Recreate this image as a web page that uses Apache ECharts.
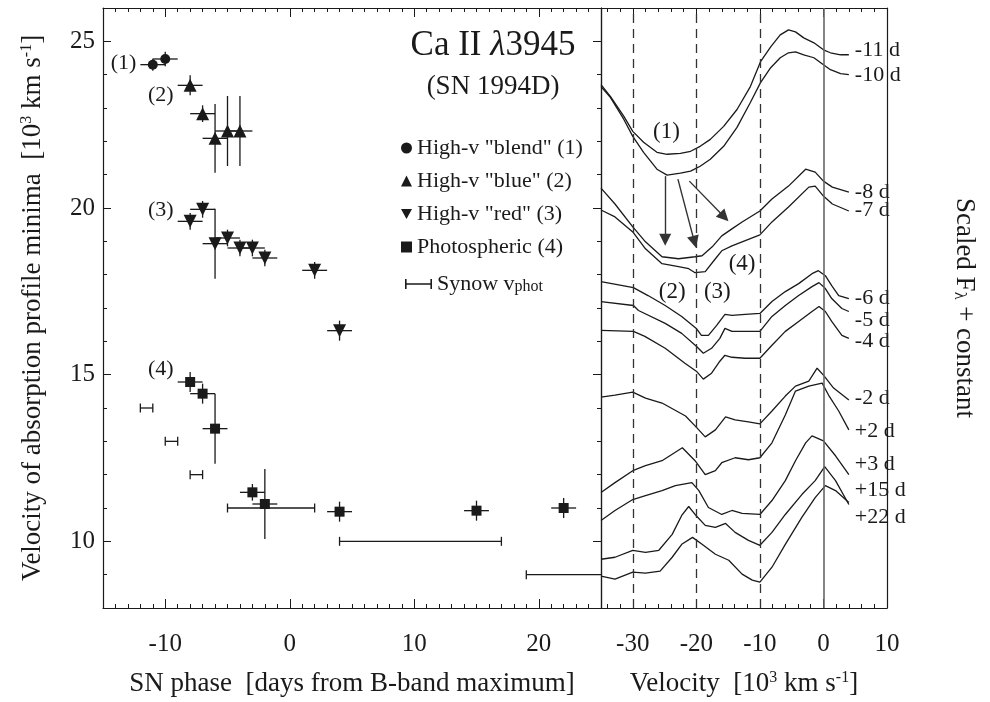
<!DOCTYPE html>
<html>
<head>
<meta charset="utf-8">
<script src="https://cdn.jsdelivr.net/npm/echarts@6/dist/echarts.min.js"></script>
<style>
  html, body { margin: 0; padding: 0; background: #fff; }
  #chart { width: 990px; height: 702px; }
</style>
</head>
<body>
<div id="chart"></div>
<script>
// ---- left panel: absorption minima vs. phase ----
const phaseBlend = [-11, -10];
const velBlend = [24.30, 24.47];
const errBlend = [0.18, 0.22];

const phaseBlue = [-8, -7, -6, -5, -4];
const velBlue = [23.68, 22.83, 22.09, 22.31, 22.31];
const errBlue = [0.3, 0.25, 1.03, 1.05, 1.05];

const phaseRed = [-8, -7, -6, -5, -4, -3, -2, 2, 4];
const velRed = [19.60, 19.96, 18.93, 19.10, 18.80, 18.80, 18.50, 18.13, 16.32];
const errRed = [0.25, 0.25, 1.05, 0.25, 0.25, 0.25, 0.25, 0.25, 0.3];

const phasePhot = [-8, -7, -6, -3, -2, 4, 15, 22];
const velPhot = [14.78, 14.43, 13.38, 11.47, 11.12, 10.89, 10.92, 11.0];
const errPhot = [0.3, 0.3, 1.05, 0.25, 1.05, 0.3, 0.3, 0.3];

const phaseErr = 1; // +/- 1 day on every measurement

const synowStart = [-12, -10, -8, -5, 4, 19];
const synowEnd = [-11, -9, -7, 2, 17, 26];
const synowVel = [14, 13, 12, 11, 10, 9];

const groupTags = ['(1)', '(2)', '(3)', '(4)'];
const tagPhase = [-13.35, -10.36, -10.36, -10.36];
const tagVel = [24.33, 23.38, 19.92, 15.15];

const phaseTicks = [-10, 0, 10, 20];
const velTicks = [10, 15, 20, 25];

// ---- right panel: Ca II line profiles, [velocity 10^3 km/s, scaled flux] ----
const epochs = ['-11 d', '-10 d', '-8 d', '-7 d', '-6 d', '-5 d', '-4 d', '-2 d', '+2 d', '+3 d', '+15 d', '+22 d'];

const spec_m11 = [[-35,52.6],[-33.5,51.4],[-31.4,49.4],[-30,47.9],[-28.3,46.8],[-26.2,45.8],[-24.6,45.6],[-22.5,45.7],[-20.9,45.9],[-19.4,46.4],[-17.8,47.1],[-15.7,48.4],[-13.6,50.1],[-11.5,52.4],[-9.9,54.9],[-8.3,56.4],[-6.8,57.6],[-5.5,58.1],[-4.4,57.9],[-3.1,57.3],[-1.5,56.8],[0,56.1],[1.1,55.8],[2.7,55.6],[4,55.6]];
const spec_m10 = [[-35,52.4],[-33.5,51.3],[-31.4,49.1],[-30,47.4],[-28.3,45.8],[-26.2,44.1],[-24.6,43.5],[-22.5,43.7],[-20.9,43.9],[-19.4,44.4],[-17.8,45.1],[-15.7,46.4],[-13.6,48.3],[-11.5,50.8],[-9.9,52.8],[-8.3,54.3],[-6.8,55.3],[-5.5,55.8],[-4.4,55.9],[-3.1,55.6],[-1.5,55.3],[0,54.6],[1.1,54.1],[2.7,53.7],[4,53.6]];
const spec_m8 = [[-35,42.2],[-32.8,40.6],[-30,38.3],[-28,36.8],[-25.4,35.3],[-22.8,35.1],[-20.2,35.3],[-19.1,35.4],[-17.5,36.3],[-16,37.4],[-14.4,38.1],[-12.8,38.8],[-10,39.9],[-8.1,41.1],[-5.5,42.4],[-2.8,44.1],[-1.3,43.8],[0,42.9],[1.4,42.3],[4,41.8]];
const spec_m7 = [[-35,40.0],[-32.8,39.3],[-30,37.8],[-28,36.1],[-25.4,34.6],[-22.8,34.3],[-21.2,34.1],[-20.2,33.7],[-18.6,33.8],[-17,35.1],[-16,35.9],[-14.4,36.4],[-12.8,36.8],[-10,37.5],[-8.1,38.8],[-5.5,40.3],[-2.3,42.3],[-1.3,42.4],[0,41.4],[1.4,40.6],[4,39.9]];
const spec_m6 = [[-35,32.8],[-29.9,32.2],[-27.6,31.4],[-24.9,30.4],[-22.3,29.3],[-20,28.1],[-19.2,27.4],[-18.1,27.4],[-16.8,28.4],[-15.5,29.5],[-14.4,29.4],[-12.3,29.5],[-10,29.6],[-8.1,30.8],[-6,31.8],[-3.9,32.6],[-1.8,33.6],[-0.8,33.9],[0.3,33.4],[1.3,32.4],[2.4,31.4],[4,31.1]];
const spec_m5 = [[-35,30.8],[-29.9,30.4],[-29.1,29.9],[-24.9,28.6],[-22.3,27.6],[-20,26.3],[-18.9,25.6],[-17.6,26.1],[-16.3,27.1],[-15.5,28.1],[-14.4,27.8],[-12.3,27.8],[-10,27.8],[-8.1,29.3],[-6,30.4],[-3.9,31.4],[-1.8,32.3],[-0.7,32.7],[0.3,32.1],[1.3,31.1],[2.9,30.1],[4,29.8]];
const spec_m4 = [[-35,27.9],[-29.9,27.8],[-28.1,27.3],[-24.9,26.1],[-21.8,24.6],[-20,23.8],[-18.9,23.0],[-17.6,23.6],[-16.3,24.8],[-15.5,25.4],[-14.4,25.2],[-12.3,25.1],[-10,25.1],[-8.1,26.4],[-6,27.8],[-3.9,28.8],[-1.8,29.8],[-0.7,30.3],[0.3,29.8],[1.3,28.8],[2.9,27.4],[4,27.1]];
const spec_m2 = [[-35,21.2],[-32.8,21.4],[-30,21.7],[-28,21.1],[-25.4,20.6],[-21.7,19.3],[-20.2,18.3],[-18.6,17.2],[-17,17.9],[-15.4,19.2],[-13.9,18.9],[-11.8,18.7],[-10,18.5],[-8.1,19.8],[-6,21.3],[-4.4,22.3],[-2.3,22.8],[-1,24.1],[0,23.4],[1.6,22.1],[4,20.9]];
const spec_p2 = [[-35,11.6],[-32.8,12.6],[-30,13.8],[-28,14.3],[-25.4,14.8],[-22.2,16.1],[-20.2,14.8],[-18.6,13.4],[-17,13.8],[-16,14.6],[-13.9,15.1],[-11.8,14.9],[-10,15.1],[-8.1,16.6],[-6,19.4],[-4.4,21.8],[-2.3,22.3],[-0.2,22.6],[0.8,21.4],[2.4,19.8],[4,17.9]];
const spec_p3 = [[-35,8.8],[-32.8,9.8],[-30,10.9],[-28,11.3],[-25.4,11.8],[-23.3,12.3],[-20.7,12.6],[-19.6,11.8],[-18.1,10.1],[-16,9.4],[-14.4,9.8],[-12.8,9.5],[-10,9.4],[-8.1,10.8],[-6,12.8],[-4.4,14.8],[-2.8,16.6],[-1.8,17.3],[0,16.8],[1.9,15.3],[4,13.4]];
const spec_p15 = [[-35,4.9],[-32.8,5.1],[-30,5.8],[-28,5.6],[-25.9,5.8],[-23.8,7.4],[-22.3,9.3],[-21.2,10.2],[-20.2,9.4],[-18.6,8.3],[-17,8.1],[-15.4,8.5],[-13.9,7.6],[-11.8,6.8],[-10,6.3],[-8.1,7.6],[-6,9.4],[-3.4,11.4],[-1.3,12.8],[0.2,14.2],[1.9,12.8],[4,10.4]];
const spec_p22 = [[-35,3.2],[-32.8,2.9],[-30,3.6],[-28,3.5],[-25.7,3.7],[-23.8,5.1],[-22.3,6.4],[-20.6,7.1],[-19.1,6.4],[-17,5.4],[-14.9,4.8],[-12.8,3.4],[-11.2,2.8],[-10,2.6],[-8.1,4.1],[-6,6.4],[-3.4,9.1],[-1.3,11.1],[0.3,12.3],[1.9,11.8],[4,10.6]];

const spectra = [spec_m11, spec_m10, spec_m8, spec_m7, spec_m6, spec_m5, spec_m4, spec_m2, spec_p2, spec_p3, spec_p15, spec_p22];

const guideVel = [-30, -20, -10];
const restVel = 0;

const arrowFrom = [[-24.9, 43.4], [-22.9, 43.1], [-21.1, 42.9]];
const arrowTo = [[-24.9, 37.0], [-20.3, 36.8], [-15.6, 39.3]];

const specTags = ['(1)', '(2)', '(3)', '(4)'];
const tagVelocity = [-24.7, -23.8, -16.7, -12.8];
const tagFlux = [47.8, 31.8, 31.8, 34.6];

const velocityTicks = [-30, -20, -10, 0, 10];
const velocityMinor = [-34, -32, -30, -28, -26, -24, -22, -20, -18, -16, -14, -12, -10, -8, -6, -4, -2, 0, 2, 4, 6, 8, 10];

// ---- styling ----
const FONT = 'Liberation Serif';
const INK = '#1a1a1a';
const labelShift = [-5, 1, 0, -1, 0, 9, 3, -2, 1, -10, -14, 15];
const invTriangle = 'path://M0,0L10,0L5,9Z';
const synowIcon = 'path://M0,0h1.6v10h-1.6z M0,4.3h27v1.4h-27z M25.4,0h1.6v10h-1.6z';

const chart = echarts.init(document.getElementById('chart'));

const supRich = {
  sup: { fontFamily: FONT, fontSize: 16, verticalAlign: 'top', color: INK },
  sub: { fontFamily: FONT, fontSize: 16, verticalAlign: 'bottom', color: INK }
};
const nameStyle = { fontFamily: FONT, fontSize: 27, color: INK, rich: supRich };
const tickLabel = { fontFamily: FONT, fontSize: 25, color: INK };

function frameAxis(extra) {
  return Object.assign({
    type: 'value',
    axisLine: { show: true, onZero: false, lineStyle: { color: INK, width: 1.2 } },
    axisTick: { show: true, inside: true, length: 8, lineStyle: { color: INK, width: 1 } },
    axisLabel: { show: false },
    splitLine: { show: false }
  }, extra);
}
function minorAxis(extra) {
  return Object.assign({
    type: 'value',
    axisLine: { show: false, onZero: false },
    axisTick: { show: true, inside: true, length: 4, lineStyle: { color: INK, width: 1 } },
    axisLabel: { show: false },
    splitLine: { show: false }
  }, extra);
}

const leftX = { gridIndex: 0, min: -15, max: 25 };
const leftY = { gridIndex: 0, min: 8, max: 26 };
const rightX = { gridIndex: 1, min: -35, max: 10 };
const rightY = { gridIndex: 1, min: 0, max: 60.3 };

function crossData(xs, ys, es) {
  return xs.map((x, i) => [x, ys[i], phaseErr, es[i]]);
}
function renderCross(params, api) {
  const x = api.value(0), y = api.value(1), dx = api.value(2), dy = api.value(3);
  const a = api.coord([x - dx, y]), b = api.coord([x + dx, y]);
  const c = api.coord([x, y + dy]), d = api.coord([x, y - dy]);
  const style = { stroke: INK, lineWidth: 1.3 };
  return {
    type: 'group',
    children: [
      { type: 'line', shape: { x1: a[0], y1: a[1], x2: b[0], y2: b[1] }, style },
      { type: 'line', shape: { x1: c[0], y1: c[1], x2: d[0], y2: d[1] }, style }
    ]
  };
}
function renderSynow(params, api) {
  const y = api.value(2);
  const a = api.coord([api.value(0), y]), b = api.coord([api.value(1), y]);
  const h = 4.5;
  const style = { stroke: INK, lineWidth: 1.3 };
  return {
    type: 'group',
    children: [
      { type: 'line', shape: { x1: a[0], y1: a[1], x2: b[0], y2: b[1] }, style },
      { type: 'line', shape: { x1: a[0], y1: a[1] - h, x2: a[0], y2: a[1] + h }, style },
      { type: 'line', shape: { x1: b[0], y1: b[1] - h, x2: b[0], y2: b[1] + h }, style }
    ]
  };
}
function renderTag(params, api) {
  const p = api.coord([api.value(0), api.value(1)]);
  return {
    type: 'text', x: p[0], y: p[1],
    style: { text: params.context.tags[params.dataIndex], fontFamily: FONT, fontSize: params.context.size,
      fill: INK, align: 'center', verticalAlign: 'middle' }
  };
}

const names = ['High-v "blend" (1)', 'High-v "blue" (2)', 'High-v "red" (3)', 'Photospheric (4)'];
const symbols = ['circle', 'triangle', invTriangle, 'rect'];
const sizes = [10, 13, 13, 10];
const groups = [
  [phaseBlend, velBlend, errBlend],
  [phaseBlue, velBlue, errBlue],
  [phaseRed, velRed, errRed],
  [phasePhot, velPhot, errPhot]
];

const series = [];
groups.forEach((g, i) => {
  series.push({
    type: 'custom', name: names[i] + ' err', xAxisIndex: 0, yAxisIndex: 0,
    dimensions: ['x', 'y', 'dx', 'dy'], encode: { x: 0, y: 1 },
    renderItem: renderCross, data: crossData(g[0], g[1], g[2]), silent: true, z: 2
  });
  series.push({
    type: 'scatter', name: names[i], xAxisIndex: 0, yAxisIndex: 0,
    symbol: symbols[i], symbolSize: sizes[i], itemStyle: { color: INK, opacity: 1 },
    data: g[0].map((x, k) => [x, g[1][k]]), z: 3
  });
});
series.push({
  type: 'custom', name: 'Synow vphot', xAxisIndex: 0, yAxisIndex: 0, clip: true,
  dimensions: ['x1', 'x2', 'y'], encode: { x: [0, 1], y: 2 },
  renderItem: renderSynow, itemStyle: { color: INK },
  data: synowStart.map((s, i) => [s, synowEnd[i], synowVel[i]])
});
series.push({
  type: 'custom', xAxisIndex: 0, yAxisIndex: 0, silent: true,
  renderItem: (params, api) => {
    params.context.tags = groupTags; params.context.size = 22;
    return renderTag(params, api);
  },
  data: groupTags.map((t, i) => [tagPhase[i], tagVel[i]])
});

spectra.forEach((d, i) => {
  const s = {
    type: 'line', name: epochs[i], xAxisIndex: 4, yAxisIndex: 4, data: d,
    symbol: 'none', showSymbol: false, silent: true,
    lineStyle: { color: INK, width: 1.3 },
    endLabel: { show: true, formatter: epochs[i], offset: [0, labelShift[i]], distance: 6,
      fontFamily: FONT, fontSize: 22, color: INK }
  };
  if (i === 0) {
    s.markLine = {
      silent: true, symbol: 'none', label: { show: false },
      data: guideVel.map(v => ({ xAxis: v, lineStyle: { color: '#333', width: 1.3, type: [9, 6] } }))
        .concat([{ xAxis: restVel, lineStyle: { color: '#666', width: 1.6, type: 'solid' } }])
    };
  }
  if (i === 1) {
    s.markLine = {
      silent: true, symbol: ['none', 'triangle'], symbolSize: 12, label: { show: false },
      lineStyle: { color: '#333', width: 1.4, type: 'solid' },
      itemStyle: { color: '#111' },
      data: arrowFrom.map((f, k) => [{ coord: f }, { coord: arrowTo[k] }])
    };
  }
  series.push(s);
});
series.push({
  type: 'custom', xAxisIndex: 4, yAxisIndex: 4, silent: true,
  renderItem: (params, api) => {
    params.context.tags = specTags; params.context.size = 23;
    return renderTag(params, api);
  },
  data: specTags.map((t, i) => [tagVelocity[i], tagFlux[i]])
});

const option = {
  animation: false,
  backgroundColor: '#fff',
  title: [
    { text: 'Ca II {i|λ}3945', left: 488, top: 23, textAlign: 'center',
      textStyle: { fontFamily: FONT, fontSize: 35, fontWeight: 'normal', color: INK,
        rich: { i: { fontFamily: FONT, fontSize: 35, fontStyle: 'italic', color: INK } } } },
    { text: '(SN 1994D)', left: 488, top: 68, textAlign: 'center',
      textStyle: { fontFamily: FONT, fontSize: 27, fontWeight: 'normal', color: INK } }
  ],
  legend: [
    {
      orient: 'vertical', left: 396, top: 132, itemWidth: 11, itemHeight: 11, itemGap: 11,
      selectedMode: false,
      data: names.map((n, i) => ({ name: n, icon: symbols[i] })),
      itemStyle: { color: INK, opacity: 1 },
      textStyle: { fontFamily: FONT, fontSize: 22, color: INK }
    },
    {
      orient: 'vertical', left: 400, top: 268, itemWidth: 27, itemHeight: 10, itemGap: 10,
      selectedMode: false,
      data: [{ name: 'Synow vphot', icon: synowIcon }],
      formatter: () => 'Synow v{sub|phot}',
      textStyle: { fontFamily: FONT, fontSize: 22, color: INK, rich: supRich }
    }
  ],
  grid: [
    { left: 103, top: 8, width: 498, height: 603 },
    { left: 601, top: 8, width: 286, height: 603 }
  ],
  xAxis: [
    frameAxis(Object.assign({}, leftX, {
      position: 'bottom',
      axisTick: { show: true, inside: true, length: 9, customValues: phaseTicks, lineStyle: { color: INK } },
      axisLabel: Object.assign({ show: true, margin: 24, customValues: phaseTicks }, tickLabel),
      name: 'SN phase  [days from B-band maximum]', nameLocation: 'middle', nameGap: 62,
      nameTextStyle: nameStyle
    })),
    minorAxis(Object.assign({}, leftX, { position: 'bottom', interval: 1 })),
    frameAxis(Object.assign({}, leftX, {
      position: 'top',
      axisTick: { show: true, inside: true, length: 9, customValues: phaseTicks, lineStyle: { color: INK } }
    })),
    minorAxis(Object.assign({}, leftX, { position: 'top', interval: 1 })),
    frameAxis(Object.assign({}, rightX, {
      position: 'bottom',
      axisTick: { show: true, inside: true, length: 9, customValues: velocityTicks, lineStyle: { color: INK } },
      axisLabel: Object.assign({ show: true, margin: 24, customValues: velocityTicks }, tickLabel),
      name: 'Velocity  [10{sup|3} km s{sup|-1}]', nameLocation: 'middle', nameGap: 62,
      nameTextStyle: nameStyle
    })),
    minorAxis(Object.assign({}, rightX, { position: 'bottom', axisTick: { show: true, inside: true, length: 4, customValues: velocityMinor, lineStyle: { color: INK } } })),
    frameAxis(Object.assign({}, rightX, {
      position: 'top',
      axisTick: { show: true, inside: true, length: 9, customValues: velocityTicks, lineStyle: { color: INK } }
    })),
    minorAxis(Object.assign({}, rightX, { position: 'top', axisTick: { show: true, inside: true, length: 4, customValues: velocityMinor, lineStyle: { color: INK } } }))
  ],
  yAxis: [
    frameAxis(Object.assign({}, leftY, {
      position: 'left',
      axisTick: { show: true, inside: true, length: 8, customValues: velTicks, lineStyle: { color: INK } },
      axisLabel: Object.assign({ show: true, margin: 8, customValues: velTicks }, tickLabel),
      name: 'Velocity of absorption profile minima  [10{sup|3} km s{sup|-1}]',
      nameLocation: 'middle', nameGap: 57, nameTextStyle: nameStyle
    })),
    minorAxis(Object.assign({}, leftY, { position: 'left', interval: 1 })),
    frameAxis(Object.assign({}, leftY, {
      position: 'right',
      axisTick: { show: true, inside: true, length: 8, customValues: velTicks, lineStyle: { color: INK } }
    })),
    minorAxis(Object.assign({}, leftY, { position: 'right', interval: 1 })),
    frameAxis(Object.assign({}, rightY, { position: 'left', axisTick: { show: false } })),
    frameAxis(Object.assign({}, rightY, {
      position: 'right', axisTick: { show: false },
      name: 'Scaled F{sub|λ} + constant', nameLocation: 'middle', nameGap: 64, nameRotate: -90,
      nameTextStyle: nameStyle
    }))
  ],
  series: series
};

chart.setOption(option);
</script>
</body>
</html>
